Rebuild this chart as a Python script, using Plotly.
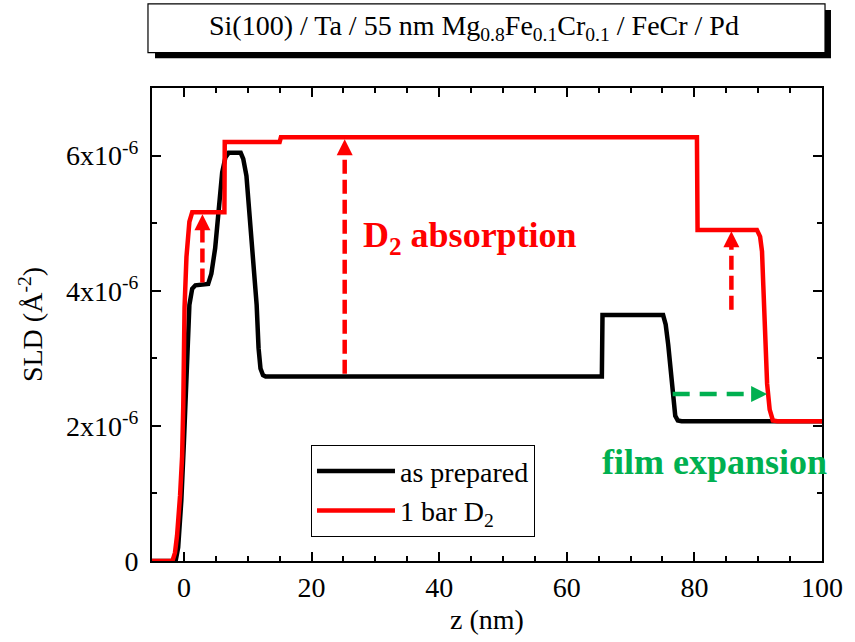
import plotly.graph_objects as go

# ---- data (SLD in units of 1e-6 Å^-2, z in nm) ----
z_prepared = [-5, -1.3, -0.9, -0.4, 0.0, 0.35, 0.86, 1.3, 1.8, 3.8, 4.3, 4.9, 5.6, 6.0, 6.5, 7.0,
              8.9, 9.3, 9.8, 10.2, 10.6, 11.0, 11.4, 11.7, 12.0, 12.4, 12.8, 65.5, 65.6, 75.1,
              75.5, 75.9, 76.2, 76.6, 77.0, 77.4, 78.0, 100]
sld_prepared = [0, 0, 0.2, 0.9, 1.75, 2.58, 3.79, 4.03, 4.08, 4.1, 4.25, 4.63, 5.36, 5.75, 5.97, 6.04,
                6.04, 5.95, 5.7, 5.25, 4.77, 4.25, 3.79, 3.15, 2.85, 2.75, 2.73, 2.73, 3.64, 3.64,
                3.5, 3.2, 2.91, 2.43, 2.15, 2.08, 2.07, 2.07]

z_d2 = [-5, -1.8, -1.4, -1.07, -0.6, -0.28, -0.1, 0.0, 0.1, 0.4, 0.86, 1.3, 6.35, 6.4, 15.0, 15.2,
        80.4, 80.5, 89.8, 90.3, 90.6, 90.8, 91.1, 91.4, 91.8, 92.3, 93.0, 100]
sld_d2 = [0, 0, 0.12, 0.38, 0.97, 1.55, 2.3, 3.0, 3.75, 4.5, 5.02, 5.16, 5.16, 6.2, 6.2, 6.27,
          6.27, 4.9, 4.9, 4.8, 4.58, 4.08, 3.35, 2.62, 2.24, 2.08, 2.07, 2.07]

# arrows: (z_start, sld_start, z_tip, sld_tip)
red_arrows_z = [2.9, 25.2, 85.8]
red_arrows_from = [4.12, 2.77, 3.72]
red_arrows_to = [5.13, 6.24, 4.88]
green_arrow_z = [76.6, 91.4]
green_arrow_sld = [2.47, 2.47]

y_tickvals = [0, 2, 4, 6]
y_ticktext = ["0", "2x10<sup>-6</sup>", "4x10<sup>-6</sup>", "6x10<sup>-6</sup>"]

S = 1e-6
RED = "#FF0000"
GREEN = "#00B050"
FONT = "Liberation Serif"

fig = go.Figure()
fig.add_trace(go.Scatter(x=z_prepared, y=[v * S for v in sld_prepared], mode="lines",
                         line=dict(color="black", width=4.5), name="as prepared"))
fig.add_trace(go.Scatter(x=z_d2, y=[v * S for v in sld_d2], mode="lines",
                         line=dict(color=RED, width=4.5), name="1 bar D<sub>2</sub>"))

for zx, y0, y1 in zip(red_arrows_z, red_arrows_from, red_arrows_to):
    fig.add_trace(go.Scatter(x=[zx, zx], y=[y0 * S, (y1 - 0.15) * S], mode="lines",
                             line=dict(color=RED, width=4.5, dash="14px,6px"),
                             showlegend=False, hoverinfo="skip"))
    fig.add_trace(go.Scatter(x=[zx], y=[y1 * S], mode="markers",
                             marker=dict(symbol="arrow-up", size=16, color=RED, line=dict(width=0)),
                             showlegend=False, hoverinfo="skip"))

fig.add_trace(go.Scatter(x=[green_arrow_z[0], green_arrow_z[1] - 1.5],
                         y=[v * S for v in green_arrow_sld], mode="lines",
                         line=dict(color=GREEN, width=4.5, dash="17px,10px"),
                         showlegend=False, hoverinfo="skip"))
fig.add_trace(go.Scatter(x=[green_arrow_z[1]], y=[green_arrow_sld[1] * S], mode="markers",
                         marker=dict(symbol="arrow-right", size=16, color=GREEN, line=dict(width=0)),
                         showlegend=False, hoverinfo="skip"))

axis_common = dict(showline=True, linecolor="black", linewidth=2, mirror="allticks",
                   ticks="inside", ticklen=9, tickwidth=1.5, tickcolor="black",
                   showgrid=False, zeroline=False,
                   tickfont=dict(family=FONT, size=28, color="black"),
                   title_font=dict(family=FONT, size=28, color="black"))

fig.update_xaxes(range=[-5, 100], tickvals=[0, 20, 40, 60, 80, 100],
                 minor=dict(dtick=5, tick0=0, ticks="inside", ticklen=5, tickwidth=1.5, tickcolor="black"),
                 title_text="z (nm)", title_standoff=8, **axis_common)
fig.update_yaxes(range=[0, 7e-6], tickvals=[v * S for v in y_tickvals], ticktext=y_ticktext,
                 minor=dict(dtick=1e-6, tick0=0, ticks="inside", ticklen=5, tickwidth=1.5, tickcolor="black"),
                 title_text="SLD (Å<sup>-2</sup>)", ticklabelstandoff=6, **axis_common)

# title box with drop shadow
fig.add_shape(type="rect", xref="paper", yref="paper", x0=0.0045, x1=1.0134, y0=1.063, y1=1.165,
              fillcolor="black", line=dict(width=0))
fig.add_shape(type="rect", xref="paper", yref="paper", x0=-0.006, x1=1.0045, y0=1.075, y1=1.178,
              fillcolor="white", line=dict(color="black", width=1.2))
fig.add_annotation(xref="paper", yref="paper", x=0.481, y=1.127, xanchor="center", yanchor="middle",
                   showarrow=False,
                   text="Si(100) / Ta / 55 nm Mg<sub>0.8</sub>Fe<sub>0.1</sub>Cr<sub>0.1</sub> / FeCr / Pd",
                   font=dict(family=FONT, size=28, color="black"))

fig.add_annotation(x=27.8, y=4.79 * S, xanchor="left", yanchor="middle", showarrow=False,
                   text="<b>D<sub>2</sub> absorption</b>", font=dict(family=FONT, size=36, color=RED))
fig.add_annotation(x=65.2, y=1.47 * S, xanchor="left", yanchor="middle", showarrow=False,
                   text="<b>film expansion</b>", font=dict(family=FONT, size=36, color=GREEN))

fig.update_layout(width=855, height=642, margin=dict(l=152, r=33, t=88, b=76),
                  paper_bgcolor="white", plot_bgcolor="white",
                  font=dict(family=FONT, size=28, color="black"),
                  legend=dict(x=0.237, y=0.245, xanchor="left", yanchor="top",
                              bgcolor="white", bordercolor="black", borderwidth=1.2,
                              font=dict(family=FONT, size=28, color="black"),
                              tracegroupgap=0, itemwidth=78))

fig.write_html("out.html")
